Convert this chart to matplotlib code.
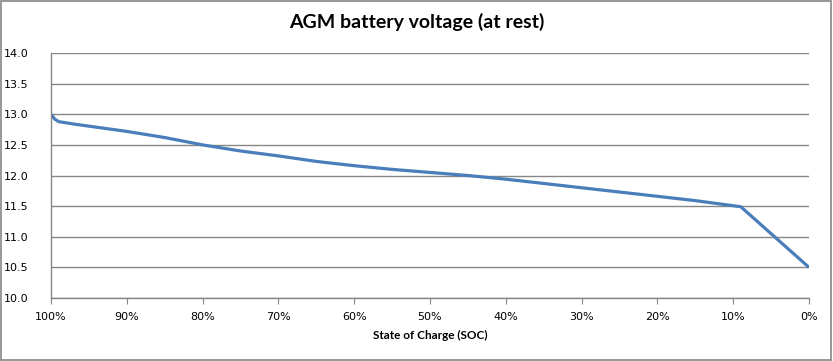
import matplotlib
matplotlib.use("Agg")
import matplotlib.pyplot as plt
from matplotlib.patches import Rectangle

# State of charge (%) and resting voltage
soc = [100, 99.5, 99, 98, 97, 90, 85, 80, 75, 70, 65, 60, 55, 50, 45,
       40, 35, 30, 25, 20, 15, 9, 0]
voltage = [13.0, 12.92, 12.88, 12.86, 12.84, 12.72, 12.62, 12.5, 12.4,
           12.32, 12.23, 12.16, 12.1, 12.05, 12.0, 11.94, 11.87, 11.8,
           11.73, 11.66, 11.59, 11.49, 10.5]

x_ticks = [100, 90, 80, 70, 60, 50, 40, 30, 20, 10, 0]
x_labels = ["100%", "90%", "80%", "70%", "60%", "50%", "40%", "30%", "20%", "10%", "0%"]
y_ticks = [10.0, 10.5, 11.0, 11.5, 12.0, 12.5, 13.0, 13.5, 14.0]

grid_color = "#868686"

fig = plt.figure(figsize=(8.33, 3.61), dpi=100)
ax = fig.add_axes([51 / 833, 63 / 361, 758 / 833, 245 / 361])

ax.plot(soc, voltage, color="#4A7EBB", linewidth=2.3, solid_capstyle="butt")

ax.set_xlim(100, 0)
ax.set_ylim(10.0, 14.0)
ax.set_xticks(x_ticks)
ax.set_xticklabels(x_labels)
ax.set_yticks(y_ticks)
ax.set_yticklabels([f"{v:.1f}" for v in y_ticks])

ax.grid(axis="y", color=grid_color, linewidth=1)
ax.set_axisbelow(True)
for side in ["top", "right"]:
    ax.spines[side].set_visible(False)
for side in ["left", "bottom"]:
    ax.spines[side].set_color(grid_color)
    ax.spines[side].set_linewidth(1)

ax.tick_params(axis="x", length=4, color=grid_color, labelsize=8, pad=6)
ax.tick_params(axis="y", length=0, labelsize=8, pad=16)

ax.set_xlabel("State of Charge (SOC)", fontsize=8.5, fontweight="bold",
              family="Lato", labelpad=6)
fig.text(0.5, 0.94, "AGM battery voltage (at rest)", ha="center", va="center",
         fontsize=14, fontweight="bold", family="Lato")

# outer chart border
fig.patches.append(Rectangle((0.001, 0.002), 0.997, 0.996, transform=fig.transFigure,
                             fill=False, edgecolor=grid_color, linewidth=1.2))

fig.savefig("out.png", dpi=100)
